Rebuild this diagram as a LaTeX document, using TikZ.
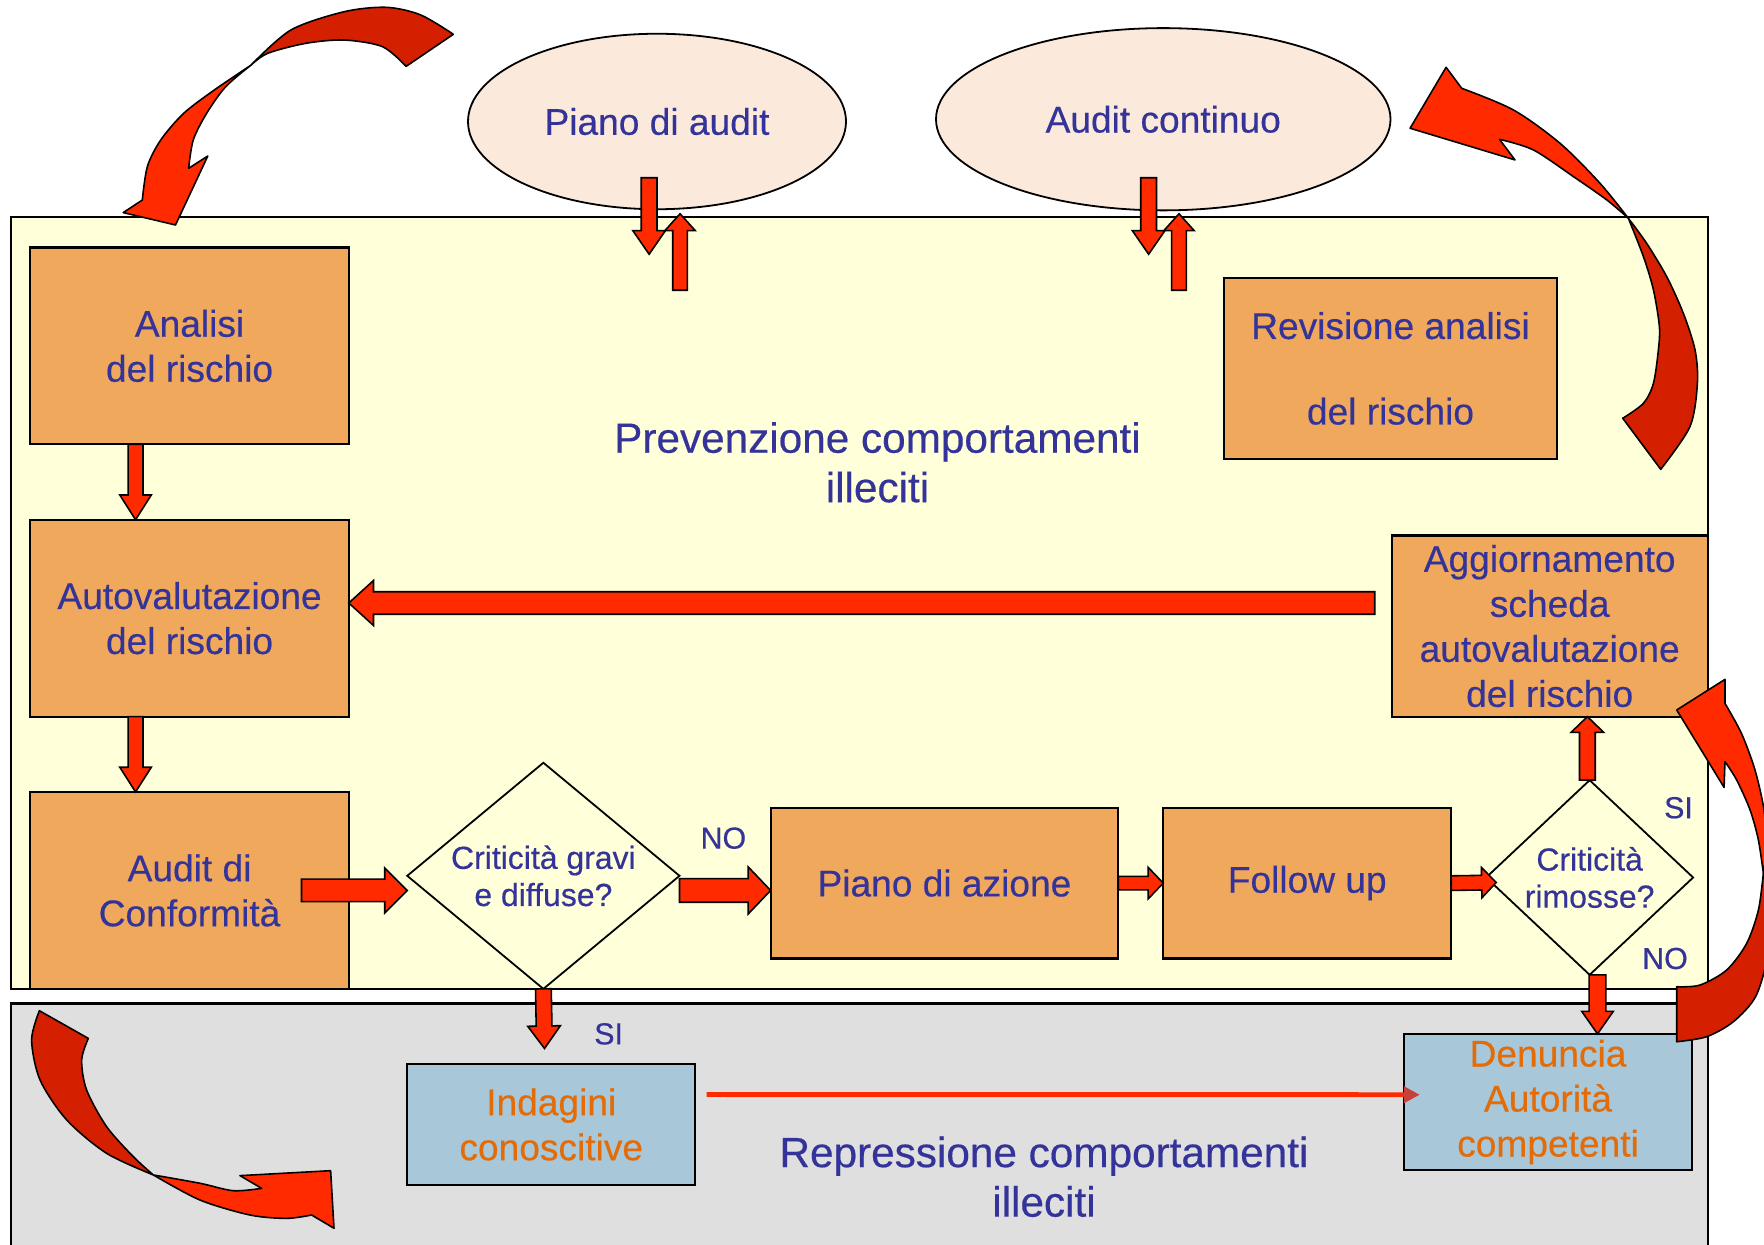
\documentclass[tikz,border=0pt]{standalone}
\usepackage{fontspec}
\setmainfont{Liberation Sans}[UprightFeatures={FakeBold=0.4}]
\usepackage{tikz}
\usetikzlibrary{shapes.geometric, arrows.meta, positioning, calc}
\definecolor{prevyellow}{HTML}{FFFFDA}
\definecolor{repgray}{HTML}{DFDFDF}
\definecolor{boxorange}{HTML}{F0A95C}
\definecolor{boxblue}{HTML}{A8C8DA}
\definecolor{ovalpeach}{HTML}{FBE9DC}
\definecolor{txtblue}{HTML}{333399}
\definecolor{txtorange}{HTML}{E36C09}
\definecolor{arrred}{HTML}{FF2A00}
\definecolor{darkred}{HTML}{D42000}
\definecolor{headred}{HTML}{C8403A}
\tikzstyle{box} = [rectangle, draw, line width=0.9pt, outer sep=0pt, fill=boxorange, text=txtblue, align=center, inner sep=0pt, font=\fontsize{16.5}{20}\selectfont]
\tikzstyle{bluebox} = [rectangle, draw, line width=0.9pt, outer sep=0pt, fill=boxblue, text=txtorange, align=center, inner sep=0pt, font=\fontsize{16.5}{20}\selectfont]
\tikzstyle{oval} = [ellipse, draw, line width=0.8pt, outer sep=0pt, fill=ovalpeach, text=txtblue, inner sep=0pt, font=\fontsize{16.5}{20}\selectfont]
\tikzstyle{decision} = [diamond, draw, line width=0.8pt, outer sep=0pt, fill=prevyellow, text=txtblue, align=center, inner sep=0pt, font=\fontsize{14.2}{16.5}\selectfont]
\tikzstyle{answer} = [text=txtblue, font=\fontsize{13.5}{16}\selectfont]
\tikzstyle{area} = [text=txtblue, align=center, font=\fontsize{18.8}{22}\selectfont]
\tikzstyle{blockarr} = [draw, fill=arrred, line width=0.7pt, line join=miter]
\tikzstyle{thinarr} = [draw=arrred, line width=2.2pt, -{Triangle[length=7pt,width=7pt,color=headred]}]
\tikzstyle{backpart} = [draw, fill=darkred, line width=0.7pt, line join=round]
\tikzstyle{frontpart} = [draw, fill=arrred, line width=0.7pt, line join=round]
% fat arrow: from, to, half shaft, half head, head length
\newcommand{\blockarrow}[5]{%
  \coordinate (bahead) at ($(#2)!#5!(#1)$);
  \draw[blockarr] ($(#1)!#3!90:(#2)$) -- ($(bahead)!#3!90:(#2)$) -- ($(bahead)!#4!90:(#2)$) -- (#2)
    -- ($(bahead)!#4!-90:(#2)$) -- ($(bahead)!#3!-90:(#2)$) -- ($(#1)!#3!-90:(#2)$) -- cycle;}
\begin{document}
\begin{tikzpicture}[x=0.5pt, y=-0.5pt]
\useasboundingbox (0,0) rectangle (1568,1106);
\clip (0,0) rectangle (1568,1106);
\fill [white] (0,0) rectangle (1568,1106);

% the two areas
\draw [fill=prevyellow, line width=1pt] (10,193) rectangle (1518,879);
\draw [fill=repgray, line width=1pt] (10,892) rectangle (1518,1115);

\node [oval, minimum width=168pt, minimum height=78pt] (pianoaudit) at (584,108) {Piano di audit};
\node [oval, minimum width=202pt, minimum height=81pt] (auditcont) at (1034,106) {Audit continuo};

\node [box, minimum width=141.5pt, minimum height=87.5pt] (analisi) at (168.5,307.5) {Analisi\\del rischio};
\node [box, minimum width=141.5pt, minimum height=87.5pt] (autoval) [below=33.5pt of analisi] {Autovalutazione\\del rischio};
\node [box, minimum width=141.5pt, minimum height=87.5pt] (auditconf) [below=33.5pt of autoval] {Audit di\\Conformità};
\node [box, minimum width=148pt, minimum height=80.5pt] (revisione) at (1236,327.5) {Revisione analisi\\[18pt]del rischio};
\node [box, minimum width=140.5pt, minimum height=80.5pt] (aggiorn) at (1377.5,556.5) {Aggiornamento\\scheda\\autovalutazione\\del rischio};
\node [decision, shape aspect=1.2, minimum width=121pt, minimum height=100.5pt] (crit1) at (483,778.5) {Criticità gravi\\e diffuse?};
\node [box, minimum width=154.5pt, minimum height=67pt] (pianoaz) at (839.5,785) {Piano di azione};
\node [box, minimum width=128pt, minimum height=67pt] (followup) [right=20pt of pianoaz] {Follow up};
\node [decision, shape aspect=1.06, minimum width=92pt, minimum height=86.5pt] (crit2) at (1413,780) {Criticità\\rimosse?};
\node [bluebox, minimum width=128pt, minimum height=53.5pt] (indagini) at (490,999.5) {Indagini\\conoscitive};
\node [bluebox, minimum width=128pt, minimum height=60.5pt] (denuncia) at (1376,979.5) {Denuncia\\Autorità\\competenti};

\node [area] (prevlbl) at (780,411) {Prevenzione comportamenti\\illeciti};
\node [area] (replbl) at (928,1046) {Repressione comportamenti\\illeciti};
\node [answer] (no1) at (643,745) {NO};
\node [answer] (si1) at (541,919) {SI};
\node [answer] (si2) at (1492,718) {SI};
\node [answer] (no2) at (1480,852) {NO};

% flow
\blockarrow{[xshift=-24pt]analisi.south}{[xshift=-24pt]autoval.north}{3.3pt}{7pt}{11pt}
\blockarrow{[xshift=-24pt]autoval.south}{[xshift=-24pt]auditconf.north}{3.3pt}{7pt}{11pt}
\blockarrow{[xshift=-21pt]auditconf.east}{[yshift=-6.5pt]crit1.west}{5pt}{10pt}{10pt}
\blockarrow{[yshift=-6.5pt]crit1.east}{[yshift=-3.25pt]pianoaz.west}{5.25pt}{10.5pt}{10pt}
\blockarrow{pianoaz.east}{followup.west}{3pt}{7pt}{6.7pt}
\blockarrow{followup.east}{[xshift=4.5pt,yshift=-2.2pt]crit2.west}{3.25pt}{6.75pt}{6.5pt}
\blockarrow{[xshift=-1pt]crit2.north}{[xshift=-1pt]crit2.north |- aggiorn.south}{3.5pt}{7.25pt}{7pt}
\blockarrow{[xshift=3.5pt]crit2.south}{[xshift=3.5pt]crit2.south |- denuncia.north}{3.75pt}{7pt}{10pt}
\blockarrow{crit1.south}{[xshift=-3pt,yshift=7pt]indagini.north}{3.5pt}{7.25pt}{10pt}
\blockarrow{[xshift=-7.5pt,yshift=10.25pt]aggiorn.west}{[yshift=6.75pt]autoval.east}{5pt}{10pt}{11pt}

% to and from the ovals
\blockarrow{[xshift=-3.5pt,yshift=14pt]pianoaudit.south}{[xshift=-3.5pt,yshift=-20pt]pianoaudit.south}{3.5pt}{7.25pt}{10.5pt}
\blockarrow{[xshift=10.25pt,yshift=-36pt]pianoaudit.south}{[xshift=10.25pt,yshift=-2pt]pianoaudit.south}{3.25pt}{6.75pt}{7.5pt}
\blockarrow{[xshift=-6.5pt,yshift=14.5pt]auditcont.south}{[xshift=-6.5pt,yshift=-19.5pt]auditcont.south}{3.5pt}{7.25pt}{10.5pt}
\blockarrow{[xshift=7pt,yshift=-35.5pt]auditcont.south}{[xshift=7pt,yshift=-1.5pt]auditcont.south}{3.25pt}{6.75pt}{7.5pt}

\draw [thinarr] ([xshift=5pt,yshift=13.3pt]indagini.east) -- ([xshift=7pt,yshift=3.2pt]denuncia.west);

% curved arrows
\filldraw [backpart] plot[smooth] coordinates {(403,30.5) (374,13.3) (343.5,6.5) (306,10.4) (258.5,26.7) (223,58)}
  -- plot[smooth] coordinates {(223,58) (238,47.4) (272,38.5) (306,35.6) (340,41.5) (361,59)} -- cycle;
\filldraw [frontpart] plot[smooth] coordinates {(223,58) (190.5,80) (163.3,100.7) (142.9,124.4) (131,148) (126.5,177.8)}
  -- (109.5,189) -- (156,200) -- (184.7,138.7)
  -- plot[smooth] coordinates {(167.7,149.6) (171.8,124.4) (183.7,100.7) (200.7,77) (223,58)} -- cycle;

\filldraw [backpart] plot[smooth] coordinates {(1442.4,371.8) (1460.8,358.5) (1469.7,340.7) (1474.1,311) (1475,290.3) (1469.7,257.7) (1460.8,228.1) (1447.4,194)}
  -- plot[smooth] coordinates {(1447.4,194) (1463.7,216.3) (1481.5,245.9) (1496.3,278.5) (1506.7,311.1) (1508.8,340.7) (1502.2,379.2) (1476.2,417.2)} -- cycle;
\filldraw [frontpart] plot[smooth] coordinates {(1447.4,194) (1422.2,162.9) (1386.7,127.4) (1345.2,97.7) (1299.3,78.5)}
  -- (1285.4,59.8) -- (1253.4,114) -- (1346.7,142.2)
  -- plot[smooth] coordinates {(1332.8,123.8) (1363,133.3) (1398.6,157) (1428.2,177.7) (1447.4,194)} -- cycle;

\filldraw [backpart] plot[smooth] coordinates {(1490.4,877.1) (1511.1,875.6) (1534.8,862.2) (1552.6,838.5) (1563,808.9) (1567.4,776.3)}
  -- plot[smooth] coordinates {(1567.4,776.3) (1572,800) (1572,845) (1561,885) (1541,908) (1517.1,921.5) (1490.4,926)} -- cycle;
\filldraw [frontpart] plot[smooth] coordinates {(1567.4,776.3) (1570,752) (1568,720) (1560,684.5) (1548,652) (1533.3,625.2)}
  -- (1533.3,603.9) -- (1490.4,631.1) -- (1532.5,699.9)
  -- plot[smooth] coordinates {(1533.3,677) (1543.7,693.4) (1555.6,720) (1563,746.7) (1567.4,776.3)} -- cycle;

\filldraw [backpart] plot[smooth] coordinates {(35,898.4) (28.1,924.4) (35.6,960) (59.3,995.5) (94.8,1025.2) (136.3,1044.4)}
  -- plot[smooth] coordinates {(136.3,1044.4) (118.5,1028.1) (94.8,1001.5) (77,968.9) (72.6,942.2) (78.5,923)} -- cycle;
\filldraw [frontpart] plot[smooth] coordinates {(136.3,1044.4) (177.8,1051.8) (207.4,1058.4) (232.6,1056.3)}
  -- (213.3,1045) -- (293.9,1040.6) -- (296.9,1091.8)
  -- plot[smooth] coordinates {(277,1080) (254.8,1083) (222.2,1080) (177.8,1066.7) (136.3,1044.4)} -- cycle;
\end{tikzpicture}
\end{document}
